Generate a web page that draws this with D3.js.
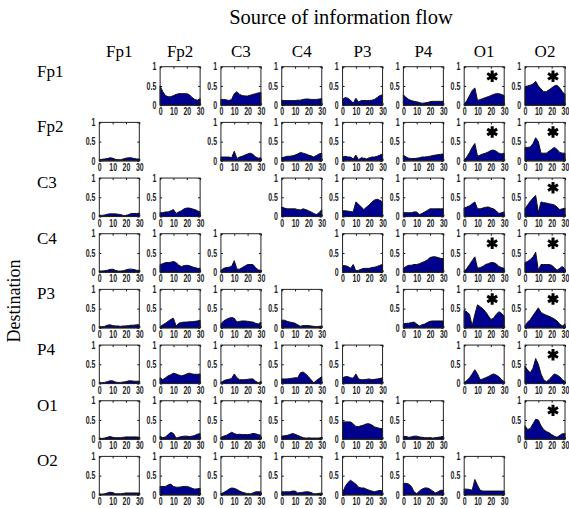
<!DOCTYPE html>
<html>
<head>
<meta charset="utf-8">
<script src="https://cdn.jsdelivr.net/npm/d3@7"></script>
<style>
  body { margin: 0; background: #fff; }
  .lbl { font-family: "Liberation Serif", "Times New Roman", serif; fill: #000; }
  .tick text { font-family: "Liberation Sans", Arial, sans-serif; font-size: 10px; font-weight: bold; fill: #222; }
</style>
</head>
<body>
<script>
// channels: rows = destination, columns = source
var channels = ["Fp1", "Fp2", "C3", "C4", "P3", "P4", "O1", "O2"];
var freqs = [0, 2, 4, 6, 8, 10, 12, 14, 16, 18, 20, 22, 24, 26, 28, 30];
var xTicks = [0, 10, 20, 30];
var yTicks = [0, 0.5, 1];

// each row: flow into that channel, one series per source (null on the diagonal)
var toFp1 = [
  null,
  [0.5, 0.35, 0.25, 0.22, 0.22, 0.25, 0.28, 0.3, 0.3, 0.3, 0.3, 0.27, 0.2, 0.15, 0.13, 0.17],
  [0.15, 0.15, 0.14, 0.12, 0.15, 0.3, 0.35, 0.28, 0.25, 0.24, 0.24, 0.26, 0.28, 0.3, 0.32, 0.33],
  [0.13, 0.12, 0.12, 0.12, 0.12, 0.12, 0.13, 0.13, 0.15, 0.16, 0.16, 0.15, 0.15, 0.15, 0.16, 0.17],
  [0.15, 0.2, 0.18, 0.13, 0.05, 0.18, 0.08, 0.12, 0.12, 0.12, 0.12, 0.13, 0.15, 0.2, 0.25, 0.27],
  [0.27, 0.2, 0.15, 0.12, 0.1, 0.09, 0.07, 0.05, 0.06, 0.07, 0.09, 0.1, 0.1, 0.1, 0.1, 0.1],
  [0.02, 0.12, 0.25, 0.38, 0.45, 0.12, 0.15, 0.17, 0.2, 0.22, 0.25, 0.28, 0.3, 0.3, 0.28, 0.25],
  [0.48, 0.5, 0.52, 0.55, 0.62, 0.5, 0.42, 0.35, 0.35, 0.4, 0.45, 0.5, 0.52, 0.45, 0.35, 0.28]
];
var toFp2 = [
  [0.03, 0.04, 0.05, 0.06, 0.08, 0.07, 0.04, 0.03, 0.03, 0.05, 0.07, 0.08, 0.08, 0.06, 0.05, 0.05],
  null,
  [0.1, 0.1, 0.1, 0.1, 0.08, 0.25, 0.06, 0.1, 0.12, 0.15, 0.18, 0.2, 0.17, 0.1, 0.07, 0.08],
  [0.08, 0.1, 0.12, 0.12, 0.13, 0.15, 0.18, 0.22, 0.2, 0.18, 0.15, 0.13, 0.1, 0.14, 0.18, 0.2],
  [0.1, 0.12, 0.1, 0.1, 0.05, 0.15, 0.03, 0.08, 0.07, 0.05, 0.08, 0.1, 0.1, 0.12, 0.15, 0.18],
  [0.15, 0.1, 0.07, 0.06, 0.06, 0.07, 0.08, 0.1, 0.1, 0.11, 0.12, 0.14, 0.15, 0.16, 0.17, 0.18],
  [0.02, 0.1, 0.22, 0.35, 0.45, 0.12, 0.15, 0.18, 0.2, 0.23, 0.27, 0.28, 0.25, 0.2, 0.18, 0.2],
  [0.35, 0.35, 0.36, 0.45, 0.6, 0.5, 0.2, 0.2, 0.2, 0.25, 0.3, 0.35, 0.3, 0.22, 0.2, 0.2]
];
var toC3 = [
  [0.03, 0.03, 0.04, 0.06, 0.07, 0.07, 0.07, 0.06, 0.05, 0.03, 0.02, 0.05, 0.08, 0.08, 0.08, 0.09],
  [0.1, 0.1, 0.12, 0.12, 0.15, 0.18, 0.08, 0.12, 0.15, 0.2, 0.22, 0.22, 0.2, 0.18, 0.15, 0.12],
  null,
  [0.25, 0.22, 0.2, 0.2, 0.2, 0.2, 0.18, 0.17, 0.2, 0.18, 0.15, 0.12, 0.08, 0.05, 0.1, 0.18],
  [0.15, 0.15, 0.14, 0.13, 0.12, 0.38, 0.32, 0.25, 0.18, 0.25, 0.3, 0.38, 0.43, 0.45, 0.42, 0.38],
  [0.1, 0.1, 0.1, 0.1, 0.12, 0.12, 0.05, 0.08, 0.12, 0.16, 0.2, 0.2, 0.2, 0.2, 0.2, 0.2],
  [0.22, 0.25, 0.28, 0.33, 0.38, 0.2, 0.2, 0.22, 0.24, 0.25, 0.22, 0.2, 0.15, 0.08, 0.1, 0.12],
  [0.2, 0.3, 0.4, 0.48, 0.55, 0.1, 0.38, 0.36, 0.35, 0.33, 0.32, 0.3, 0.25, 0.18, 0.2, 0.22]
];
var toC4 = [
  [0.03, 0.03, 0.04, 0.05, 0.07, 0.08, 0.05, 0.03, 0.03, 0.04, 0.06, 0.08, 0.08, 0.07, 0.05, 0.05],
  [0.2, 0.22, 0.25, 0.25, 0.26, 0.28, 0.25, 0.18, 0.15, 0.17, 0.18, 0.17, 0.14, 0.12, 0.1, 0.1],
  [0.05, 0.1, 0.12, 0.13, 0.15, 0.3, 0.08, 0.08, 0.12, 0.16, 0.2, 0.2, 0.2, 0.12, 0.06, 0.05],
  null,
  [0.17, 0.17, 0.15, 0.1, 0.2, 0.03, 0.05, 0.08, 0.1, 0.1, 0.1, 0.12, 0.13, 0.15, 0.18, 0.2],
  [0.1, 0.15, 0.18, 0.18, 0.2, 0.2, 0.22, 0.25, 0.28, 0.32, 0.38, 0.4, 0.4, 0.38, 0.36, 0.35],
  [0.02, 0.1, 0.2, 0.3, 0.4, 0.1, 0.12, 0.15, 0.2, 0.22, 0.25, 0.25, 0.22, 0.15, 0.12, 0.1],
  [0.25, 0.28, 0.33, 0.4, 0.52, 0.05, 0.2, 0.2, 0.2, 0.2, 0.18, 0.12, 0.05, 0.1, 0.15, 0.08]
];
var toP3 = [
  [0.03, 0.03, 0.04, 0.07, 0.08, 0.06, 0.05, 0.05, 0.04, 0.05, 0.05, 0.06, 0.07, 0.07, 0.08, 0.08],
  [0.03, 0.08, 0.12, 0.17, 0.22, 0.25, 0.05, 0.12, 0.14, 0.15, 0.15, 0.16, 0.16, 0.17, 0.18, 0.2],
  [0.1, 0.18, 0.22, 0.25, 0.27, 0.25, 0.15, 0.17, 0.18, 0.18, 0.17, 0.16, 0.15, 0.12, 0.1, 0.15],
  [0.2, 0.2, 0.17, 0.15, 0.14, 0.12, 0.08, 0.04, 0.06, 0.06, 0.06, 0.05, 0.04, 0.03, 0.04, 0.05],
  null,
  [0.1, 0.12, 0.12, 0.14, 0.15, 0.1, 0.05, 0.08, 0.1, 0.14, 0.17, 0.18, 0.18, 0.18, 0.18, 0.18],
  [0.45, 0.42, 0.35, 0.05, 0.35, 0.6, 0.55, 0.5, 0.42, 0.32, 0.22, 0.25, 0.35, 0.42, 0.38, 0.3],
  [0.05, 0.15, 0.22, 0.32, 0.42, 0.52, 0.4, 0.36, 0.33, 0.3, 0.27, 0.23, 0.18, 0.1, 0.05, 0.1]
];
var toP4 = [
  [0.02, 0.02, 0.03, 0.05, 0.07, 0.07, 0.04, 0.03, 0.03, 0.04, 0.05, 0.07, 0.07, 0.06, 0.06, 0.06],
  [0.15, 0.1, 0.15, 0.2, 0.23, 0.27, 0.25, 0.22, 0.2, 0.22, 0.25, 0.27, 0.25, 0.24, 0.24, 0.25],
  [0.02, 0.07, 0.1, 0.11, 0.13, 0.25, 0.15, 0.1, 0.1, 0.1, 0.11, 0.12, 0.12, 0.06, 0.02, 0.05],
  [0.12, 0.12, 0.12, 0.13, 0.14, 0.15, 0.15, 0.28, 0.3, 0.25, 0.18, 0.1, 0.02, 0.08, 0.13, 0.18],
  [0.15, 0.18, 0.18, 0.15, 0.14, 0.25, 0.12, 0.1, 0.1, 0.11, 0.12, 0.1, 0.11, 0.12, 0.13, 0.15],
  null,
  [0.02, 0.08, 0.15, 0.25, 0.36, 0.25, 0.1, 0.12, 0.15, 0.18, 0.22, 0.25, 0.22, 0.18, 0.1, 0.05],
  [0.45, 0.35, 0.28, 0.4, 0.65, 0.5, 0.25, 0.1, 0.05, 0.1, 0.18, 0.25, 0.22, 0.18, 0.1, 0.05]
];
var toO1 = [
  [0.02, 0.02, 0.03, 0.05, 0.07, 0.05, 0.04, 0.04, 0.04, 0.05, 0.06, 0.06, 0.06, 0.06, 0.06, 0.05],
  [0.08, 0.04, 0.06, 0.12, 0.18, 0.15, 0.03, 0.05, 0.07, 0.08, 0.08, 0.07, 0.08, 0.1, 0.13, 0.15],
  [0.05, 0.08, 0.1, 0.14, 0.18, 0.15, 0.12, 0.13, 0.12, 0.12, 0.12, 0.13, 0.15, 0.14, 0.12, 0.1],
  [0.08, 0.09, 0.1, 0.12, 0.15, 0.13, 0.1, 0.07, 0.04, 0.03, 0.03, 0.03, 0.03, 0.03, 0.03, 0.05],
  [0.45, 0.45, 0.45, 0.45, 0.4, 0.33, 0.33, 0.35, 0.37, 0.4, 0.4, 0.37, 0.32, 0.3, 0.28, 0.28],
  [0.08, 0.07, 0.05, 0.06, 0.08, 0.08, 0.06, 0.05, 0.04, 0.04, 0.04, 0.03, 0.04, 0.05, 0.06, 0.08],
  null,
  [0.35, 0.25, 0.28, 0.4, 0.52, 0.5, 0.35, 0.25, 0.2, 0.17, 0.12, 0.08, 0.05, 0.1, 0.14, 0.15]
];
var toO2 = [
  [0.02, 0.02, 0.03, 0.05, 0.07, 0.06, 0.03, 0.03, 0.03, 0.04, 0.05, 0.05, 0.05, 0.05, 0.05, 0.05],
  [0.22, 0.22, 0.22, 0.26, 0.28, 0.22, 0.2, 0.2, 0.21, 0.22, 0.22, 0.2, 0.17, 0.15, 0.16, 0.17],
  [0.03, 0.06, 0.1, 0.15, 0.18, 0.17, 0.14, 0.1, 0.07, 0.05, 0.03, 0.03, 0.05, 0.08, 0.08, 0.08],
  [0.08, 0.08, 0.08, 0.08, 0.1, 0.1, 0.05, 0.06, 0.07, 0.08, 0.08, 0.06, 0.03, 0.03, 0.04, 0.05],
  [0.05, 0.22, 0.32, 0.38, 0.33, 0.28, 0.2, 0.18, 0.18, 0.15, 0.12, 0.1, 0.08, 0.1, 0.12, 0.1],
  [0.3, 0.3, 0.28, 0.22, 0.08, 0.03, 0.1, 0.15, 0.18, 0.18, 0.15, 0.1, 0.05, 0.08, 0.12, 0.12],
  [0.15, 0.15, 0.14, 0.12, 0.4, 0.25, 0.12, 0.1, 0.1, 0.1, 0.1, 0.1, 0.1, 0.1, 0.1, 0.1],
  null
];

// significant flows marked with an asterisk: [destination, source]
var significant = [
  ["Fp1", "O1"], ["Fp1", "O2"], ["Fp2", "O1"], ["Fp2", "O2"], ["C3", "O2"],
  ["C4", "O1"], ["C4", "O2"], ["P3", "O1"], ["P3", "O2"], ["P4", "O2"], ["O1", "O2"]
];

var rows = [toFp1, toFp2, toC3, toC4, toP3, toP4, toO1, toO2];

var width = 569,
    height = 508,
    pw = 40,
    ph = 38.5,
    squeeze = 0.7;   // tick labels are drawn narrow, like the original

var svg = d3.select("body").append("svg")
    .attr("width", width)
    .attr("height", height);

var colPos = d3.scaleLinear().domain([0, 7]).range([99.3, 525]);
var rowPos = d3.scaleLinear().domain([0, 7]).range([66.7, 456.4]);

var x = d3.scaleLinear().domain([0, 30]).range([0, pw]);
var y = d3.scaleLinear().domain([0, 1]).range([ph, 0]);

var area = d3.area()
    .x(function(d, i) { return x(freqs[i]); })
    .y0(y(0))
    .y1(function(d) { return y(d); });

var star = d3.symbol().type(d3.symbolAsterisk).size(92);

function isSig(dest, src) {
  return significant.some(function(p) { return p[0] === dest && p[1] === src; });
}

// titles
svg.append("text").attr("class", "lbl")
    .attr("x", 341).attr("y", 24)
    .attr("text-anchor", "middle")
    .style("font-size", "20.5px")
    .text("Source of information flow");

svg.append("text").attr("class", "lbl")
    .attr("transform", "translate(20,301) rotate(-90)")
    .attr("text-anchor", "middle")
    .style("font-size", "18px")
    .text("Destination");

channels.forEach(function(name, i) {
  svg.append("text").attr("class", "lbl")
      .attr("x", colPos(i) + pw / 2).attr("y", 57)
      .attr("text-anchor", "middle")
      .style("font-size", "17px")
      .text(name);
  svg.append("text").attr("class", "lbl")
      .attr("x", 37).attr("y", rowPos(i) + 10)
      .style("font-size", "17px")
      .text(name);
});

rows.forEach(function(series, r) {
  series.forEach(function(vals, c) {
    if (!vals) return;
    var g = svg.append("g")
        .attr("transform", "translate(" + colPos(c) + "," + rowPos(r) + ")");

    g.append("path")
        .datum(vals)
        .attr("d", area)
        .attr("fill", "#00008f")
        .attr("stroke", "#111")
        .attr("stroke-width", 1);

    g.append("g")
        .attr("transform", "translate(0," + ph + ")")
        .call(d3.axisBottom(x).tickValues(xTicks).tickSizeInner(-2).tickSizeOuter(0).tickPadding(3))
        .call(function(s) { s.select(".domain").remove(); });
    g.append("g")
        .call(d3.axisLeft(y).tickValues(yTicks).tickFormat(function(d) { return String(d); })
          .tickSizeInner(-2).tickSizeOuter(0).tickPadding(5.5))
        .call(function(s) { s.select(".domain").remove(); });
    g.append("g")
        .attr("transform", "translate(" + pw + ",0)")
        .call(d3.axisRight(y).tickValues(yTicks).tickFormat("").tickSizeInner(-2).tickSizeOuter(0))
        .call(function(s) { s.select(".domain").remove(); });
    g.append("g")
        .call(d3.axisTop(x).tickValues(xTicks).tickFormat("").tickSizeInner(-2).tickSizeOuter(0))
        .call(function(s) { s.select(".domain").remove(); });

    g.selectAll(".tick line").attr("stroke", "#111");
    g.selectAll(".tick text")
        .attr("font-family", null)
        .attr("font-size", null)
        .attr("transform", "scale(" + squeeze + ",1)");

    g.append("rect")
        .attr("width", pw).attr("height", ph)
        .attr("fill", "none")
        .attr("stroke", "#222")
        .attr("stroke-width", 1);

    if (isSig(channels[r], channels[c])) {
      g.append("path")
          .attr("d", star)
          .attr("transform", "translate(" + x(21) + "," + y(0.75) + ")")
          .attr("fill", "none")
          .attr("stroke", "#000")
          .attr("stroke-width", 3);
    }
  });
});
</script>
</body>
</html>
